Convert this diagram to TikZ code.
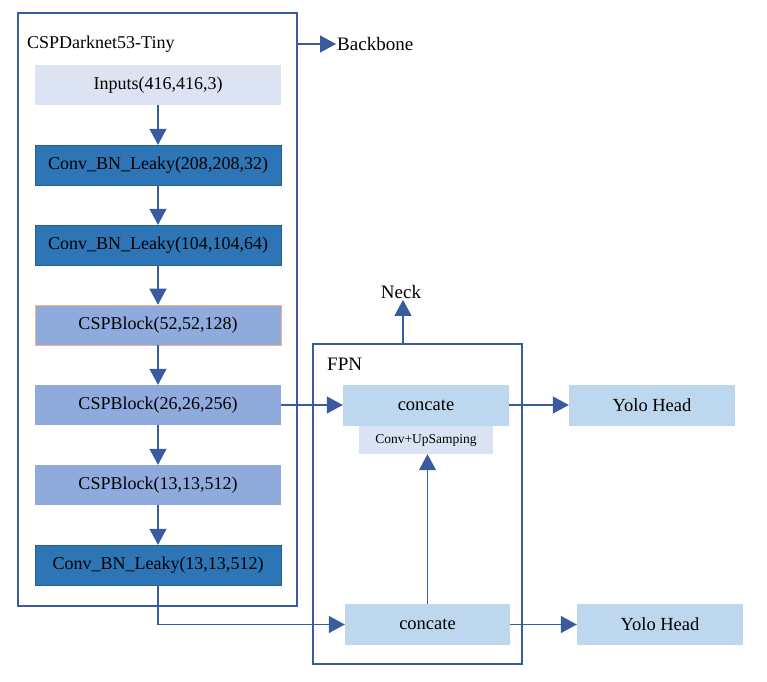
\documentclass[tikz,border=0pt]{standalone}
\usepackage{fontspec}
\setmainfont{Liberation Serif}
\usetikzlibrary{arrows.meta}
\definecolor{lineblue}{HTML}{3A5C9E}
\definecolor{inputc}{HTML}{DCE3F3}
\definecolor{convc}{HTML}{2E75B6}
\definecolor{cspc}{HTML}{8FAADC}
\definecolor{catc}{HTML}{BDD7EE}
\definecolor{upc}{HTML}{DAE3F3}
\definecolor{orangeb}{HTML}{F4B183}
\tikzset{
  blk/.style={rectangle, inner sep=0pt, minimum width=246pt, minimum height=40pt, font=\fontsize{18}{20}\selectfont},
  fpnbox/.style={rectangle, inner sep=0pt, minimum width=166pt, minimum height=41pt, fill=catc, font=\fontsize{18.5}{20}\selectfont},
  frame/.style={draw=lineblue, line width=1.6pt, inner sep=0pt},
  arr/.style={draw=lineblue, line width=1.3pt, -{Triangle[length=16pt,width=17pt]}},
  lbl/.style={inner sep=1pt, font=\fontsize{19}{21}\selectfont}
}
\begin{document}
\begin{tikzpicture}[x=1pt,y=-1pt]
\useasboundingbox (0,0) rectangle (767,681);
% backbone frame
\node[frame, minimum width=279pt, minimum height=593pt] (bb) at (157.5,309.5) {};
\node[lbl, anchor=west, font=\fontsize{18}{21}\selectfont] (bbl) at (26,44) {CSPDarknet53-Tiny};
\node[lbl, anchor=west] (backbone) at (336,44) {Backbone};
\draw[arr] (bb.east |- backbone.west) -- (backbone.west);
% blocks
\node[blk, fill=inputc] (in) at (158,85) {Inputs(416,416,3)};
\node[blk, fill=convc, draw=convc!80!black, line width=0.4pt] (c1) at (158,165) {Conv\_BN\_Leaky(208,208,32)};
\node[blk, fill=convc, draw=convc!80!black, line width=0.4pt] (c2) at (158,245) {Conv\_BN\_Leaky(104,104,64)};
\node[blk, fill=cspc, draw=orangeb, line width=0.6pt] (s1) at (158,325) {CSPBlock(52,52,128)};
\node[blk, fill=cspc] (s2) at (158,405) {CSPBlock(26,26,256)};
\node[blk, fill=cspc] (s3) at (158,485) {CSPBlock(13,13,512)};
\node[blk, fill=convc, draw=convc!80!black, line width=0.4pt] (c3) at (158,565) {Conv\_BN\_Leaky(13,13,512)};
\draw[arr] (in) -- (c1);
\draw[arr] (c1) -- (c2);
\draw[arr] (c2) -- (s1);
\draw[arr] (s1) -- (s2);
\draw[arr] (s2) -- (s3);
\draw[arr] (s3) -- (c3);
% FPN frame
\node[frame, minimum width=209pt, minimum height=320pt] (fpn) at (417.5,504) {};
\node[lbl, anchor=west] (fpnl) at (326,364) {FPN};
\node[lbl] (neck) at (401,292) {Neck};
\coordinate (neckfoot) at (403,344);
\draw[arr] (neckfoot) -- (neckfoot |- neck.south);
\node[fpnbox] (ct) at (426,405) {concate};
\node[rectangle, inner sep=0pt, minimum width=134pt, minimum height=28pt, fill=upc, font=\fontsize{13.5}{15}\selectfont] (up) at (426,440) {Conv+UpSamping};
\node[fpnbox, minimum width=165pt] (cb) at (427.5,624.5) {concate};
\node[fpnbox] (y1) at (652,405) {Yolo Head};
\node[fpnbox] (y2) at (660,624.5) {Yolo Head};
\draw[arr] (s2.east) -- (ct.west);
\draw[arr] (ct.east) -- (y1.west);
\draw[arr] (cb.north) -- (cb.north |- up.south);
\draw[arr] (c3.south) |- (cb.west);
\draw[arr] (cb.east) -- (y2.west);
\end{tikzpicture}
\end{document}
